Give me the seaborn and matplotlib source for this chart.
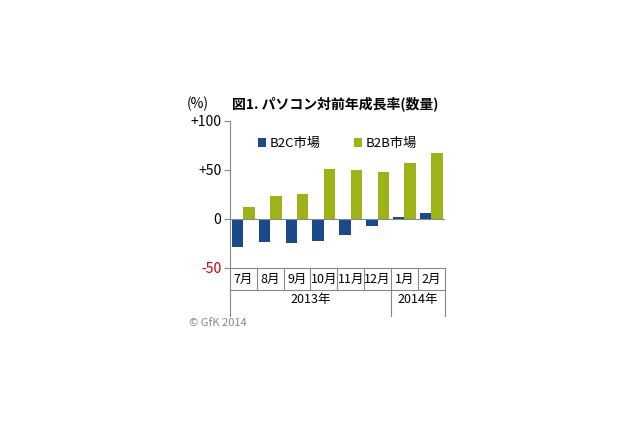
import matplotlib
matplotlib.use("Agg")
import matplotlib.pyplot as plt
import seaborn as sns
import pandas as pd

months = ["7月", "8月", "9月", "10月", "11月", "12月", "1月", "2月"]
b2c = [-29, -24, -25, -23, -16, -7, 2, 6]
b2b = [12, 23, 25, 51, 50, 48, 57, 67]
series = ["B2C市場", "B2B市場"]
years = [("2013年", 0, 6), ("2014年", 6, 8)]
yticks = [-50, 0, 50, 100]
ytick_labels = ["-50", "0", "+50", "+100"]

plt.rcParams["font.family"] = "Noto Sans CJK JP"

df = pd.DataFrame({
    "month": months * 2,
    "value": b2c + b2b,
    "series": [series[0]] * len(months) + [series[1]] * len(months),
})

fig = plt.figure(figsize=(6.4, 4.26), dpi=100)
ax = fig.add_axes([0.359, 0.371, 0.336, 0.345])
sns.barplot(data=df, x="month", y="value", hue="series", order=months,
            hue_order=series, palette=["#1b4a8c", "#9db318"], width=0.85, gap=0,
            saturation=1, ax=ax, legend=True)

n = len(months)
ax.set_xlim(-0.5, n - 0.5)
ax.set_ylim(-50, 100)
ax.set_yticks(yticks)
ax.set_yticklabels(ytick_labels, fontsize=10)
ax.get_yticklabels()[0].set_color("#cc0000")
ax.tick_params(axis="y", length=4, direction="out", color="#888888", pad=2)
ax.set_xticks([])
ax.set_xlabel("")
ax.set_ylabel("")
for s in ["top", "right", "bottom"]:
    ax.spines[s].set_visible(False)
ax.spines["left"].set_color("#888888")
ax.axhline(0, color="#888888", lw=0.8)
ax.plot([-0.5, n - 0.5], [-50, -50], color="#888888", lw=0.8, clip_on=False)

# category table below the plot
tr = ax.get_xaxis_transform()
row1, row2, row3 = -0.15, -0.28, -0.33
for i, m in enumerate(months):
    ax.text(i, (0 + row1) / 2, m, transform=tr, ha="center", va="center", fontsize=9)
for i in range(n + 1):
    x = i - 0.5
    ax.plot([x, x], [0, row1], transform=tr, color="#888888", lw=0.8, clip_on=False)
ax.plot([-0.5, n - 0.5], [row1, row1], transform=tr, color="#888888", lw=0.8, clip_on=False)
for label, a, b in years:
    ax.text((a + b - 1) / 2, (row1 + row2) / 2, label, transform=tr, ha="center",
            va="center", fontsize=9)
for x in [-0.5, 5.5, n - 0.5]:
    ax.plot([x, x], [row1, row3], transform=tr, color="#888888", lw=0.8, clip_on=False)

leg = ax.legend(loc="upper center", ncol=2, frameon=False, fontsize=9.5,
                handlelength=0.6, handleheight=0.6, columnspacing=2.5,
                bbox_to_anchor=(0.5, 0.97), handletextpad=0.3)

fig.text(0.362, 0.74, "図1. パソコン対前年成長率(数量)", fontsize=10, fontweight="bold",
         ha="left", va="bottom")
fig.text(0.292, 0.74, "(%)", fontsize=10, ha="left", va="bottom")
fig.text(0.295, 0.235, "© GfK 2014", fontsize=8, color="#888888", ha="left")

fig.savefig("out.png", dpi=100)
